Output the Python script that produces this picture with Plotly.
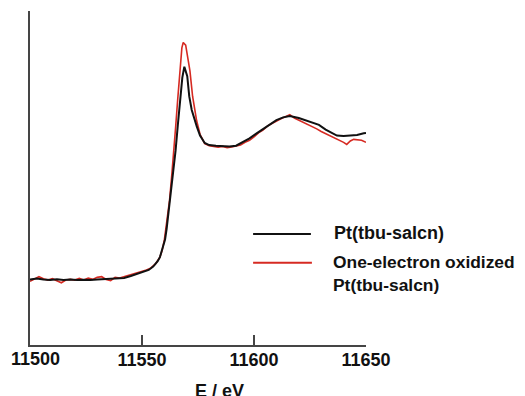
import plotly.graph_objects as go

# Pt(tbu-salcn) – black
energy_black = [11500, 11503, 11506, 11509, 11512, 11515, 11518, 11521, 11524, 11527,
                11530, 11533, 11536, 11539, 11542, 11545, 11548, 11551, 11553, 11555,
                11557, 11558, 11559, 11560.3, 11561, 11562.5, 11563.5, 11565, 11566, 11567,
                11568, 11568.9, 11570.2, 11571.1, 11572.2, 11574.4, 11575.9, 11578, 11580,
                11583, 11586, 11589, 11592, 11595, 11598, 11601, 11604, 11607, 11610,
                11613, 11616, 11620, 11625, 11629, 11632, 11635, 11637, 11640, 11643,
                11646, 11649, 11650]
absorb_black = [0.005, 0.012, 0.004, 0.0, 0.006, 0.0, 0.004, 0.0, 0.003, 0.0,
                0.004, 0.006, 0.008, 0.01, 0.015, 0.03, 0.045, 0.06, 0.075, 0.10,
                0.14, 0.17, 0.22, 0.30, 0.38, 0.59, 0.72, 0.96, 1.15, 1.33,
                1.50, 1.58, 1.51, 1.36, 1.26, 1.14, 1.07, 1.015, 1.0,
                0.995, 0.99, 0.99, 0.995, 1.02, 1.05, 1.085, 1.12, 1.155, 1.185,
                1.205, 1.215, 1.2, 1.17, 1.15, 1.115, 1.09, 1.07, 1.068, 1.07,
                1.075, 1.087, 1.09]

# One-electron oxidized Pt(tbu-salcn) – red
energy_red = [11500, 11502, 11504, 11506, 11508, 11510, 11512, 11514, 11516, 11518,
              11520, 11522, 11524, 11526, 11528, 11530, 11532, 11534, 11536, 11538,
              11540, 11542, 11544, 11546, 11548, 11550, 11552, 11554, 11556, 11558,
              11559, 11560, 11561, 11562.3, 11563.3, 11564.3, 11565.1, 11565.9, 11567, 11567.8,
              11568.4, 11569.5, 11570.5, 11571.4, 11572.6, 11574.4, 11575.9, 11578, 11580, 11582,
              11584, 11586, 11588, 11590, 11592, 11594, 11596, 11598, 11600, 11602,
              11604, 11606, 11608, 11610, 11612, 11614, 11616, 11618, 11620, 11622,
              11624, 11626, 11628, 11630, 11632, 11634, 11636, 11638, 11640, 11641.4,
              11643, 11644.5, 11646, 11648, 11650]
absorb_red = [-0.01, 0.005, 0.025, 0.01, 0.0, 0.01, -0.005, -0.02, 0.0, 0.005,
              0.0, 0.012, 0.0, 0.015, 0.005, 0.02, 0.025, 0.005, -0.005, 0.02,
              0.015, 0.025, 0.03, 0.04, 0.05, 0.06, 0.075, 0.09, 0.12, 0.17,
              0.22, 0.30, 0.42, 0.59, 0.78, 0.96, 1.15, 1.33, 1.58, 1.72,
              1.76, 1.74, 1.64, 1.55, 1.36, 1.18, 1.08, 1.01, 0.995, 0.99,
              0.985, 0.99, 0.98, 0.985, 0.99, 1.0, 1.02, 1.035, 1.06, 1.09,
              1.11, 1.14, 1.16, 1.18, 1.195, 1.21, 1.225, 1.2, 1.185, 1.17,
              1.15, 1.135, 1.12, 1.10, 1.085, 1.07, 1.055, 1.04, 1.02, 1.005,
              1.03, 1.042, 1.04, 1.035, 1.02]

x_ticks = [11500, 11550, 11600, 11650]
x_tick_labels = ["11500", "11550", "11600", "11650"]
x_title = "E / eV"
label_black = "Pt(tbu-salcn)"
label_red = ["One-electron oxidized", "Pt(tbu-salcn)"]

BLACK = "#111111"
RED = "#d62a22"
AXIS = "#454545"
FONT = "Liberation Sans, Arial, sans-serif"
TXT = dict(family=FONT, size=18, color="#111111", weight="bold")
TXT_LEG2 = dict(family=FONT, size=17.4, color="#111111", weight="bold")

fig = go.Figure()
fig.add_trace(go.Scatter(x=energy_red, y=absorb_red, mode="lines",
                         line=dict(color=RED, width=1.6), name=" ".join(label_red),
                         showlegend=False))
fig.add_trace(go.Scatter(x=energy_black, y=absorb_black, mode="lines",
                         line=dict(color=BLACK, width=2.0), name=label_black,
                         showlegend=False))

# the first tick label is nudged right (as in the reference) via an annotation
axis_ticktext = [""] + x_tick_labels[1:]

# page body has an 8px default margin, so the figure is 8px smaller and margins shifted
fig.update_layout(
    width=517, height=388,
    margin=dict(l=22, r=159, t=3, b=51),
    plot_bgcolor="white", paper_bgcolor="white",
    font=dict(family=FONT, size=18, color="#111111"),
    xaxis=dict(range=[11500, 11650], tickvals=x_ticks, ticktext=axis_ticktext,
               ticks="inside", ticklen=10, tickwidth=2, tickcolor=AXIS,
               showline=True, linecolor=AXIS, linewidth=2, automargin=False,
               ticklabelstandoff=-3,
               showgrid=False, zeroline=False, tickfont=TXT),
    yaxis=dict(range=[-0.481, 1.993], showticklabels=False, ticks="", showline=True,
               linecolor=AXIS, linewidth=2, showgrid=False, zeroline=False,
               automargin=False),
)

fig.add_annotation(text=x_tick_labels[0], xref="x", yref="paper", x=x_ticks[0],
                   y=-0.043, xanchor="left", yanchor="middle", xshift=-21,
                   showarrow=False, font=TXT)

# axis title
fig.add_annotation(text=x_title, xref="paper", yref="paper", x=0.5625, y=-0.139,
                   showarrow=False, xanchor="center", yanchor="middle", font=TXT)

# legend (drawn manually)
fig.add_shape(type="line", xref="paper", yref="paper", x0=0.664, x1=0.836,
              y0=0.332, y1=0.332, line=dict(color=BLACK, width=2))
fig.add_shape(type="line", xref="paper", yref="paper", x0=0.664, x1=0.839,
              y0=0.246, y1=0.246, line=dict(color=RED, width=2))
fig.add_annotation(text=label_black, xref="paper", yref="paper", x=0.899, y=0.335,
                   showarrow=False, xanchor="left", yanchor="middle", font=TXT)
fig.add_annotation(text="<br>".join(label_red), xref="paper", yref="paper",
                   x=0.897, y=0.214, showarrow=False, xanchor="left", align="left",
                   yanchor="middle", font=TXT_LEG2)

fig.write_html("out.html")
